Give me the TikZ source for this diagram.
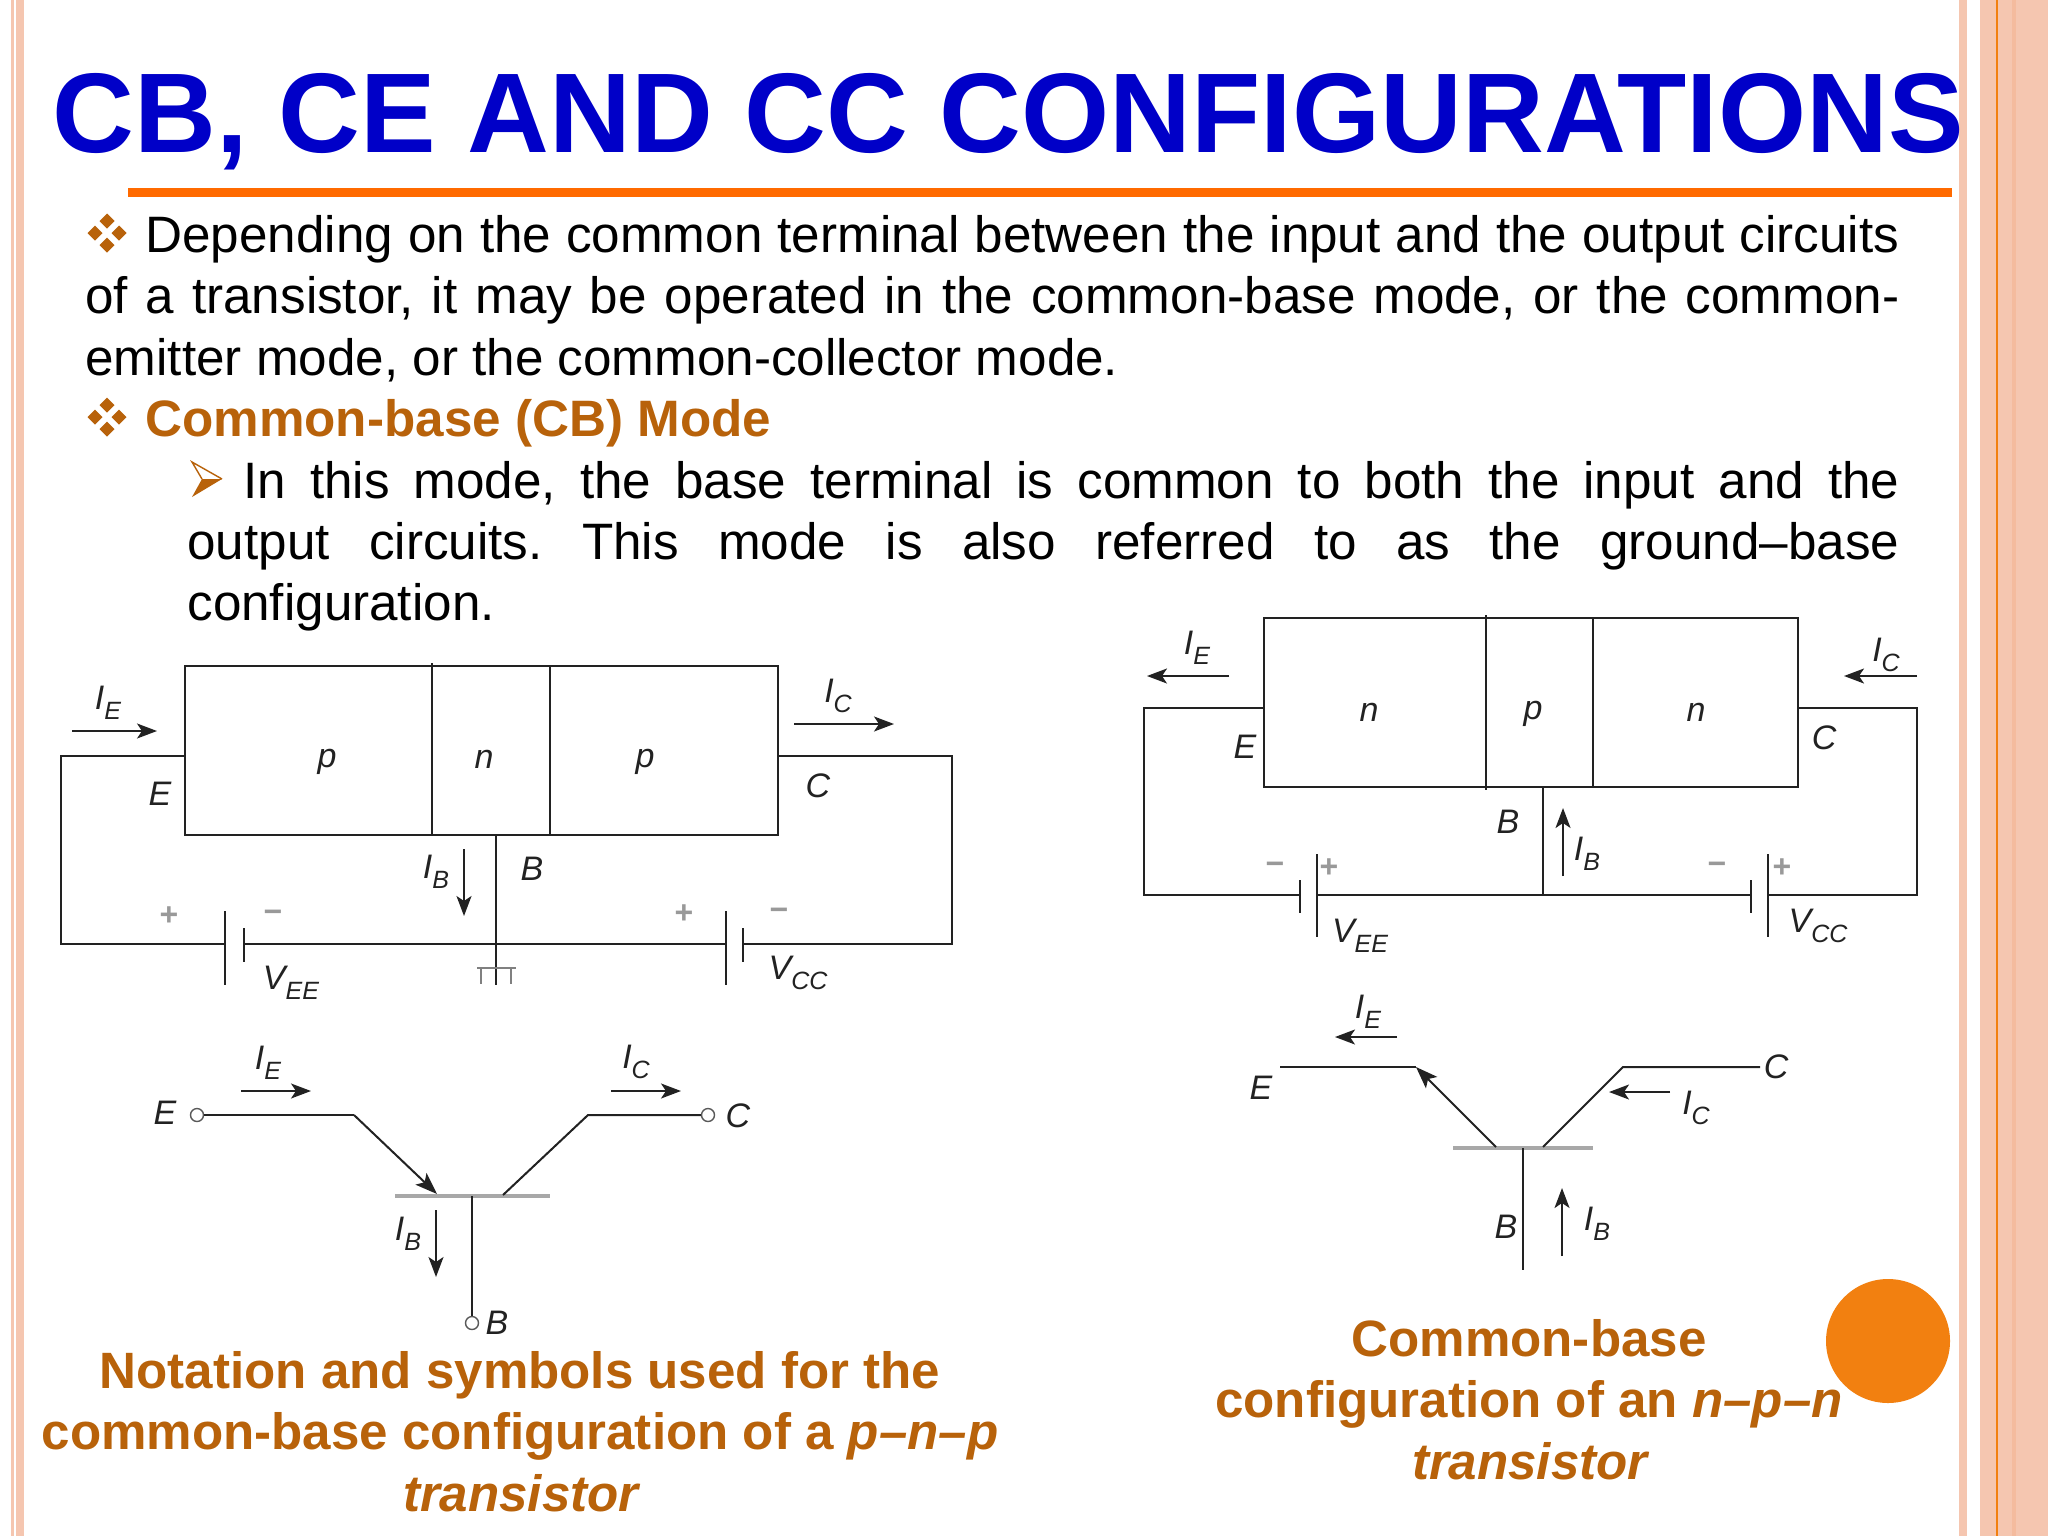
\documentclass[tikz,border=0pt]{standalone}
\usepackage{fontspec}
\setmainfont{Liberation Sans}
\usetikzlibrary{arrows.meta}
\frenchspacing
\definecolor{peach}{HTML}{F5C6B0}
\definecolor{peachdk}{HTML}{F4BB9E}
\definecolor{ornge}{HTML}{F28010}
\definecolor{rulec}{HTML}{FF6A00}
\definecolor{ttl}{HTML}{0000C8}
\definecolor{brn}{HTML}{B8620A}
\definecolor{ink}{HTML}{222222}
\definecolor{barg}{HTML}{A8A8A8}
\newcommand{\cur}[2]{\textit{#1}\raisebox{-0.3em}{\fontsize{12.5}{14}\selectfont\textit{#2}}}
\newcommand{\just}[2]{\makebox[#1][s]{#2}}
\tikzset{
  x=0.5pt,y=-0.5pt,
  wire/.style={draw=ink,line width=1.2pt},
  thinw/.style={draw=ink,line width=1pt},
  plate/.style={draw=ink,line width=0.8pt},
  curarr/.style={draw=ink,line width=0.9pt,-{Stealth[length=10pt,width=7.5pt,inset=2.5pt]}},
  bar/.style={draw=barg,line width=2.2pt},
  lbl/.style={inner sep=0pt,text=ink,font=\fontsize{17}{19}\selectfont\itshape},
  sign/.style={inner sep=0pt,text=gray!80,font=\fontsize{16}{18}\selectfont\bfseries},
  term/.style={circle,draw=ink!75,line width=0.7pt,minimum size=6.5pt,inner sep=0pt,fill=white},
  body/.style={inner sep=0pt,anchor=base west,text=black,font=\fontsize{25.6}{30}\selectfont},
  captxt/.style={inner sep=0pt,anchor=base,text=brn,font=\fontsize{25.55}{30}\selectfont\bfseries},
  bull/.pic={
    \fill[brn] (0,-19.5) -- (7.5,-12) -- (0,-4.5) -- (-7.5,-12) -- cycle;
    \fill[brn] (0,19.5) -- (7.5,12) -- (0,4.5) -- (-7.5,12) -- cycle;
    \fill[brn] (-19.5,0) -- (-12,7.5) -- (-4.5,0) -- (-12,-7.5) -- cycle;
    \fill[brn] (19.5,0) -- (12,7.5) -- (4.5,0) -- (12,-7.5) -- cycle;
  }
}
\begin{document}
\begin{tikzpicture}
\useasboundingbox (0,0) rectangle (2048,1536);
\fill[white] (0,0) rectangle (2048,1536);
% side bands
\fill[peach] (11,0) rectangle (13.5,1536);
\fill[peach] (15.7,0) rectangle (24,1536);
\fill[peach] (1959,0) rectangle (1967,1536);
\fill[peach] (1980,0) rectangle (2048,1536);
\fill[peachdk] (2012,0) rectangle (2016,1536);
\fill[ornge] (1996,0) rectangle (1998,1536);
% orange disc
\fill[ornge] (1888,1341) circle[radius=31pt];
% title
\node[inner sep=0pt,anchor=base west,text=ttl,font=\fontsize{56.65}{60}\selectfont\bfseries] (title) at (52,152) {CB, CE AND CC CONFIGURATIONS};
\fill[rulec] (128,188) rectangle (1952,197);
% body text
\pic at (107,233) {bull};
\pic at (107,417) {bull};
\fill[brn] (192,497) -- (222,479) -- (202,479) -- cycle;
\draw[brn,line width=0.7pt,line join=miter] (222,479) -- (192,462) -- (202,479);
\node[body] (l1) at (145,252) {\just{877pt}{Depending on the common terminal between the input and the output circuits}};
\node[body] (l2) at (85,313) {\just{907pt}{of a transistor, it may be operated in the common-base mode, or the common-}};
\node[body] (l3) at (85,375) {emitter mode, or the common-collector mode.};
\node[body,text=brn,font=\fontsize{25.6}{30}\selectfont\bfseries] (l4) at (145,436) {Common-base (CB) Mode};
\node[body] (l5) at (243,498) {\just{828pt}{In this mode, the base terminal is common to both the input and the}};
\node[body] (l6) at (187,559) {\just{856pt}{output circuits. This mode is also referred to as the ground–base}};
\node[body] (l7) at (187,620) {configuration.};
% --- p-n-p block
\coordinate (a1) at (185,666); \coordinate (a2) at (778,835);
\draw[wire] (a1) rectangle (a2);
\coordinate (ad1t) at (432,663); \coordinate (ad1b) at (432,835);
\coordinate (ad2t) at (550,666); \coordinate (ad2b) at (550,835);
\draw[thinw] (ad1t) -- (ad1b); \draw[thinw] (ad2t) -- (ad2b);
\coordinate (aEb) at (185,756); \coordinate (aEc) at (61,756); \coordinate (aEd) at (61,944);
\coordinate (abl) at (225,944); \coordinate (abs) at (244,944);
\coordinate (aj) at (496,944); \coordinate (bbl) at (726,944); \coordinate (bbs) at (743,944);
\coordinate (aCd) at (952,944); \coordinate (aCc) at (952,756); \coordinate (aCb) at (778,756);
\draw[wire] (aEb) -- (aEc) -- (aEd) -- (abl);
\draw[wire] (abs) -- (bbl);
\draw[wire] (bbs) -- (aCd) -- (aCc) -- (aCb);
\draw[plate] (225,911) -- (abl) -- (225,985);
\draw[plate] (244,928) -- (abs) -- (244,962);
\draw[plate] (726,911) -- (bbl) -- (726,985);
\draw[plate] (743,928) -- (bbs) -- (743,962);
\coordinate (aBt) at (496,835); \coordinate (aGnd) at (496,985);
\draw[thinw] (aBt) -- (aGnd);
\draw[draw=gray,line width=0.6pt] (477,968) -- (516,968) (481,968) -- (481,984) (511,968) -- (511,984);
\coordinate (aIEs) at (72,731); \coordinate (aIEe) at (157,731);
\coordinate (aICs) at (794,724); \coordinate (aICe) at (894,724);
\coordinate (aIBs) at (464,849); \coordinate (aIBe) at (464,916);
\draw[curarr] (aIEs) -- (aIEe); \draw[curarr] (aICs) -- (aICe); \draw[curarr] (aIBs) -- (aIBe);
\node[lbl] (aIE) at (108,703) {\cur{I}{E}};
\node[lbl] (aIC) at (838,696) {\cur{I}{C}};
\node[lbl] (aIB) at (436,872) {\cur{I}{B}};
\node[lbl] (aE) at (160,794) {E};
\node[lbl] (aC) at (818,786) {C};
\node[lbl] (aB) at (532,869) {B};
\node[lbl] (ap1) at (327,762) {p};
\node[lbl] (an) at (484,759) {n};
\node[lbl] (ap2) at (645,762) {p};
\node[sign] (ap) at (169,916) {+};
\node[sign] (am) at (273,916) {−};
\node[sign] (bp) at (684,914) {+};
\node[sign] (bm) at (779,914) {−};
\node[lbl] (aV1) at (291,983) {\cur{V}{EE}};
\node[lbl] (aV2) at (798,973) {\cur{V}{CC}};
% --- n-p-n block
\coordinate (c1) at (1264,618); \coordinate (c2) at (1798,787);
\draw[wire] (c1) rectangle (c2);
\coordinate (cd1t) at (1486,615); \coordinate (cd1b) at (1486,790);
\coordinate (cd2t) at (1593,618); \coordinate (cd2b) at (1593,787);
\draw[thinw] (cd1t) -- (cd1b); \draw[thinw] (cd2t) -- (cd2b);
\coordinate (cEb) at (1264,708); \coordinate (cEc) at (1144,708); \coordinate (cEd) at (1144,895);
\coordinate (cs1) at (1300,895); \coordinate (cl1) at (1317,895);
\coordinate (cj) at (1543,895); \coordinate (cs2) at (1751,895); \coordinate (cl2) at (1768,895);
\coordinate (cCd) at (1917,895); \coordinate (cCc) at (1917,708); \coordinate (cCb) at (1798,708);
\draw[wire] (cEb) -- (cEc) -- (cEd) -- (cs1);
\draw[wire] (cl1) -- (cs2);
\draw[wire] (cl2) -- (cCd) -- (cCc) -- (cCb);
\draw[plate] (1300,880) -- (cs1) -- (1300,913);
\draw[plate] (1317,854) -- (cl1) -- (1317,937);
\draw[plate] (1751,880) -- (cs2) -- (1751,913);
\draw[plate] (1768,854) -- (cl2) -- (1768,937);
\coordinate (cBt) at (1543,787);
\draw[thinw] (cBt) -- (cj);
\coordinate (cIEs) at (1229,676); \coordinate (cIEe) at (1147,676);
\coordinate (cICs) at (1917,676); \coordinate (cICe) at (1844,676);
\coordinate (cIBs) at (1563,876); \coordinate (cIBe) at (1563,808);
\draw[curarr] (cIEs) -- (cIEe); \draw[curarr] (cICs) -- (cICe); \draw[curarr] (cIBs) -- (cIBe);
\node[lbl] (cIE) at (1197,648) {\cur{I}{E}};
\node[lbl] (cIC) at (1886,655) {\cur{I}{C}};
\node[lbl] (cIB) at (1587,854) {\cur{I}{B}};
\node[lbl] (cE) at (1245,747) {E};
\node[lbl] (cC) at (1824,738) {C};
\node[lbl] (cB) at (1508,822) {B};
\node[lbl] (cn1) at (1369,712) {n};
\node[lbl] (cp) at (1533,714) {p};
\node[lbl] (cn2) at (1696,712) {n};
\node[sign] (cm1) at (1275,868) {−};
\node[sign] (cp1) at (1329,868) {+};
\node[sign] (cm2) at (1717,868) {−};
\node[sign] (cp2) at (1782,868) {+};
\node[lbl] (cV1) at (1360,936) {\cur{V}{EE}};
\node[lbl] (cV2) at (1818,926) {\cur{V}{CC}};
% --- p-n-p symbol
\node[term] (sE) at (197,1115) {};
\node[term] (sC) at (708,1115) {};
\node[term] (sB) at (472,1323) {};
\coordinate (sEk) at (354,1115); \coordinate (sEt) at (437,1194);
\coordinate (sCk) at (588,1115); \coordinate (sCt) at (503,1195);
\coordinate (sBt) at (472,1196);
\draw[bar] (395,1196) -- (550,1196);
\draw[thinw] (sE) -- (sEk);
\draw[thinw,-{Stealth[length=11pt,width=8pt,inset=2.5pt]}] (sEk) -- (sEt);
\draw[thinw] (sCt) -- (sCk) -- (sC);
\draw[thinw] (sBt) -- (sB);
\coordinate (sIEs) at (241,1091); \coordinate (sIEe) at (311,1091);
\coordinate (sICs) at (611,1091); \coordinate (sICe) at (681,1091);
\coordinate (sIBs) at (436,1210); \coordinate (sIBe) at (436,1277);
\draw[curarr] (sIEs) -- (sIEe); \draw[curarr] (sICs) -- (sICe); \draw[curarr] (sIBs) -- (sIBe);
\node[lbl] (sIE) at (268,1063) {\cur{I}{E}};
\node[lbl] (sIC) at (636,1062) {\cur{I}{C}};
\node[lbl] (sIB) at (408,1234) {\cur{I}{B}};
\node[lbl] (sEl) at (165,1113) {E};
\node[lbl] (sCl) at (738,1116) {C};
\node[lbl] (sBl) at (497,1323) {B};
% --- n-p-n symbol
\coordinate (tE) at (1280,1067); \coordinate (tEk) at (1416,1067); \coordinate (tEb) at (1496,1147);
\coordinate (tC) at (1760,1067); \coordinate (tCk) at (1623,1067); \coordinate (tCb) at (1543,1147);
\coordinate (tBt) at (1523,1148); \coordinate (tBb) at (1523,1270);
\draw[bar] (1453,1148) -- (1593,1148);
\draw[thinw] (tE) -- (tEk);
\draw[thinw,-{Stealth[length=11pt,width=8pt,inset=2.5pt]}] (tEb) -- (tEk);
\draw[thinw] (tCb) -- (tCk) -- (tC);
\draw[thinw] (tBt) -- (tBb);
\coordinate (tIEs) at (1397,1037); \coordinate (tIEe) at (1335,1037);
\coordinate (tICs) at (1670,1092); \coordinate (tICe) at (1609,1092);
\coordinate (tIBs) at (1562,1256); \coordinate (tIBe) at (1562,1188);
\draw[curarr] (tIEs) -- (tIEe); \draw[curarr] (tICs) -- (tICe); \draw[curarr] (tIBs) -- (tIBe);
\node[lbl] (tIEl) at (1368,1012) {\cur{I}{E}};
\node[lbl] (tICl) at (1696,1108) {\cur{I}{C}};
\node[lbl] (tIBl) at (1597,1224) {\cur{I}{B}};
\node[lbl] (tEl) at (1261,1088) {E};
\node[lbl] (tCl) at (1776,1067) {C};
\node[lbl] (tBl) at (1506,1227) {B};
% captions
\node[captxt] (c1a) at (520,1388) {Notation and symbols used for the};
\node[captxt] (c1b) at (520,1449) {common-base configuration of a \textit{p–n–p}};
\node[captxt] (c1c) at (522,1511) {\textit{transistor}};
\node[captxt] (c2a) at (1529,1356) {Common-base};
\node[captxt] (c2b) at (1529,1417) {configuration of an \textit{n–p–n}};
\node[captxt] (c2c) at (1531,1479) {\textit{transistor}};
\end{tikzpicture}
\end{document}
